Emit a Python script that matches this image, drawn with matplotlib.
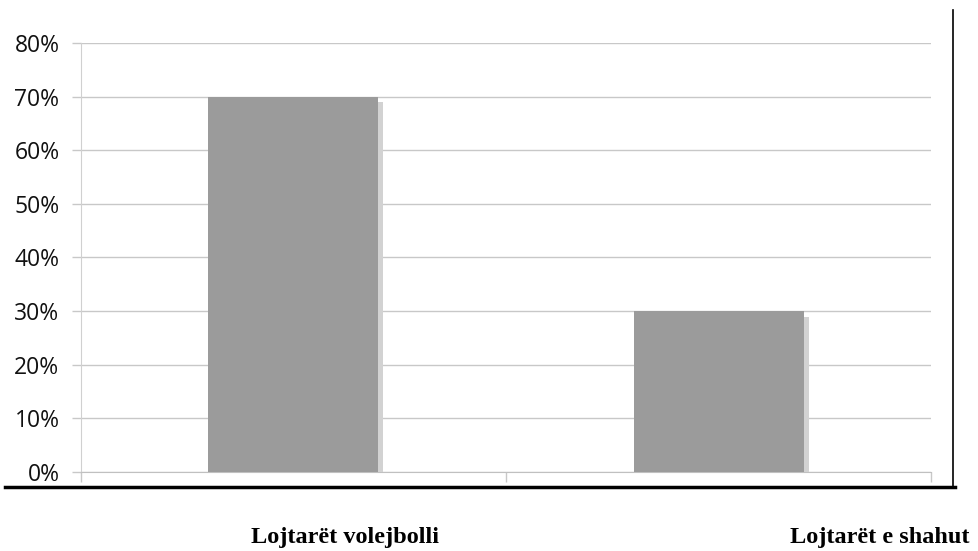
import matplotlib as mpl
import matplotlib.pyplot as plt
import matplotlib.patheffects as pe
from matplotlib.lines import Line2D
from matplotlib.ticker import PercentFormatter, MultipleLocator

categories = ["Lojtarët volejbolli", "Lojtarët e shahut"]
values = [70, 30]
label_x = [0.352, 0.899]   # figure-fraction centres of the category captions

mpl.rcParams.update({
    "font.family": ["Open Sans", "DejaVu Sans"],
    "font.size": 16.5,
})

fig = plt.figure(figsize=(9.79, 5.51), dpi=100)
ax = fig.add_axes([0.0827, 0.1434, 0.8683, 0.7786])

x = [i + 0.5 for i in range(len(values))]
ax.bar(x, values, width=0.4, color="#9b9b9b", zorder=3,
       path_effects=[pe.SimplePatchShadow(offset=(3.6, -4.2), shadow_rgbFace="#d2d2d2", alpha=1.0),
                     pe.Normal()])

ax.set_xlim(0, len(values))
ax.set_ylim(0, 80)
ax.yaxis.set_major_locator(MultipleLocator(10))
ax.yaxis.set_major_formatter(PercentFormatter(decimals=0))
ax.grid(axis="y", color="#c8c8c8", linewidth=1.0, zorder=0)
ax.set_xticks(range(len(values) + 1))
ax.set_xticklabels([])
ax.tick_params(axis="x", length=7, color="#c8c8c8", width=1)
ax.tick_params(axis="y", length=6.5, color="#c8c8c8", width=1, pad=9, labelcolor="#111111")

for s in ["top", "right"]:
    ax.spines[s].set_visible(False)
ax.spines["left"].set_color("#d0d0d0")
ax.spines["bottom"].set_color("#c0c0c0")

# black frame lines from the document
fig.add_artist(Line2D([5 / 979, 955 / 979], [0.1162, 0.1162], color="black", linewidth=2.5))
fig.add_artist(Line2D([0.9735, 0.9735], [0.1162, 0.9819], color="black", linewidth=1.2))

for cx, name in zip(label_x, categories):
    fig.text(cx, 0.0145, name, ha="center", va="baseline", fontsize=17.5,
             fontweight="bold", family=["Liberation Serif", "DejaVu Serif"])

fig.savefig("out.png", dpi=100)
